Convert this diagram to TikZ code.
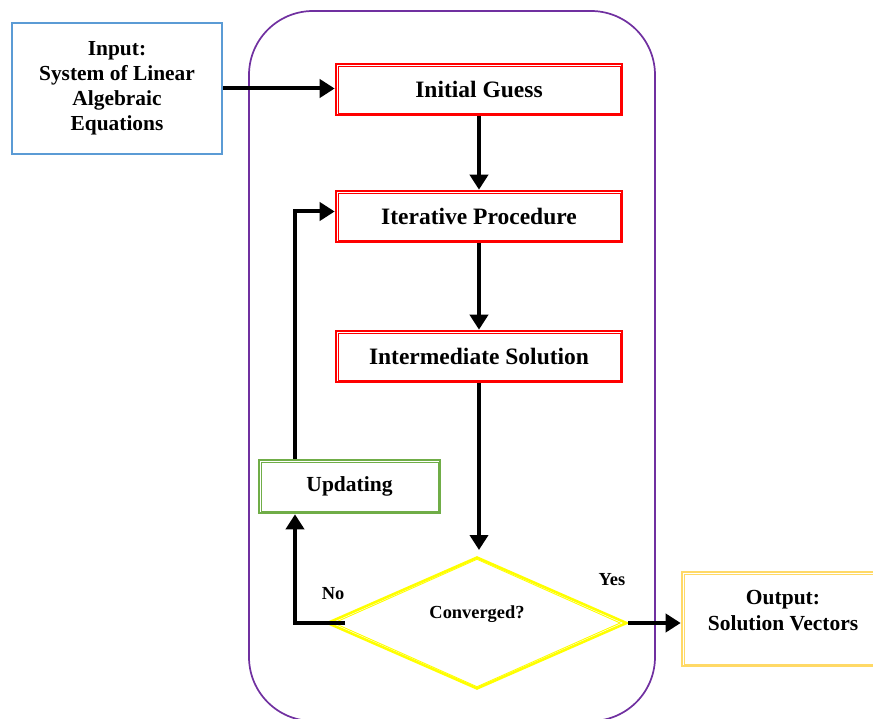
\documentclass[tikz,border=0pt]{standalone}
\usepackage{fontspec}
\setmainfont{Liberation Serif}
\usetikzlibrary{arrows.meta,shapes.geometric}
\definecolor{boxred}{RGB}{255,0,0}
\definecolor{boxblue}{RGB}{91,155,213}
\definecolor{boxgreen}{RGB}{112,173,71}
\definecolor{boxyellow}{RGB}{255,255,0}
\definecolor{boxgold}{RGB}{255,217,102}
\definecolor{framepurple}{RGB}{112,48,160}
\begin{document}
\begin{tikzpicture}[x=1pt,y=-1pt,
  outerline/.style={line width=2.6pt},
  innerline/.style={line width=0.9pt},
  redbox/.style={draw=boxred, outerline, minimum width=286pt, minimum height=51pt, inner sep=0pt,
    font=\fontsize{23.5}{28}\selectfont\bfseries},
  arr/.style={line width=4pt, -{Triangle[length=15pt,width=18pt]}},
  lbl/.style={inner sep=0pt, font=\fontsize{18.4}{22}\selectfont\bfseries}]
\useasboundingbox (0,0) rectangle (873,719);
% frame
\node[draw=framepurple, line width=1.7pt, rounded corners=64pt, minimum width=406pt,
  minimum height=710pt, inner sep=0pt] (frame) at (452,366) {};
% input
\node[draw=boxblue, line width=2.4pt, minimum width=210pt, minimum height=131pt, inner sep=0pt,
  align=center, font=\fontsize{21.4}{25}\selectfont\bfseries] (in) at (117,88.5)
  {Input:\\System of Linear\\Algebraic\\Equations};
% main boxes
\node[redbox] (ig) at (479,89.5) {Initial Guess};
\node[redbox] (iter) at (479,216.5) {Iterative Procedure};
\node[redbox] (inter) at (479,356.5) {Intermediate Solution};
\node[draw=boxgreen, outerline, minimum width=181pt, minimum height=53pt, inner sep=0pt,
  font=\fontsize{21.5}{25}\selectfont\bfseries] (upd) at (349.5,486.5) {Updating};
\node[draw=boxyellow, diamond, outerline, minimum width=300pt, minimum height=132pt, inner sep=0pt] (dec) at (477,623) {};
\node[lbl] (conv) at (477,614) {Converged?};
% output
\node[draw=boxgold, outerline, minimum width=196pt, minimum height=94pt, inner sep=0pt] (out) at (780,619) {};
\node[align=center, inner sep=0pt, font=\fontsize{21.5}{26}\selectfont\bfseries] (outtxt) at (783,611)
  {Output:\\Solution Vectors};
% inner lines of the double borders
\foreach \n/\c in {ig/boxred, iter/boxred, inter/boxred, upd/boxgreen, out/boxgold}
  \draw[\c, innerline] ([shift={(3.3pt,-3.3pt)}]\n.north west) rectangle ([shift={(-3.3pt,3.3pt)}]\n.south east);
\draw[boxyellow, innerline] ([shift={(0pt,-3.6pt)}]dec.north) -- ([shift={(-8.2pt,0pt)}]dec.east)
  -- ([shift={(0pt,3.6pt)}]dec.south) -- ([shift={(8.2pt,0pt)}]dec.west) -- cycle;
% labels
\node[lbl] (no) at (333,594) {No};
\node[lbl] (yes) at (612,580) {Yes};
% helper coordinates
\coordinate (loopcol) at (295,0);
\coordinate (nostart) at (345,623);
\coordinate (decin) at (481,550);
% connectors
\draw[arr] (in.east) -- (in.east -| ig.west);
\draw[arr] (ig.south) -- (iter.north);
\draw[arr] (iter.south) -- (inter.north);
\draw[arr] (inter.south) -- (inter.south |- decin);
\draw[arr] (nostart) -- (nostart -| loopcol) -- (upd.south -| loopcol);
\draw[arr] (upd.north -| loopcol) |- ([yshift=5pt]iter.west);
\draw[arr] (dec.east) -- (dec.east -| out.west);
\end{tikzpicture}
\end{document}
